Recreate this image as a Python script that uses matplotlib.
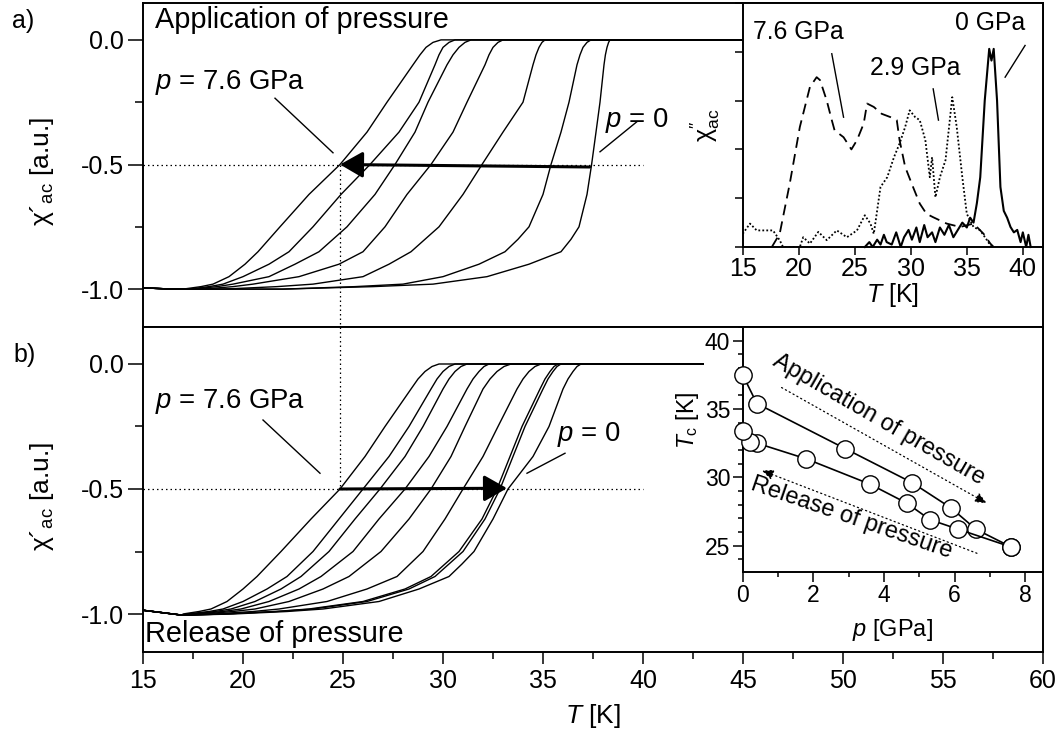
import matplotlib
matplotlib.use('Agg')
import matplotlib.pyplot as plt
from matplotlib.ticker import MultipleLocator, FormatStrFormatter

plt.rcParams['font.family'] = ['Liberation Sans', 'DejaVu Sans']
plt.rcParams['mathtext.fontset'] = 'custom'
plt.rcParams['mathtext.rm'] = 'Liberation Sans'
plt.rcParams['mathtext.it'] = 'Liberation Sans:italic'
plt.rcParams['mathtext.bf'] = 'Liberation Sans:bold'
plt.rcParams['axes.unicode_minus'] = False

# ---------------- data ----------------
# chi' levels at which the temperature of each curve was read
LEVELS = [-1.0, -0.99, -0.98, -0.95, -0.9, -0.85, -0.8, -0.75, -0.62, -0.5, -0.37, -0.25,
          -0.1, -0.06, -0.03, -0.01, 0.0]

# a) application of pressure: p = 7.6, 6.6, 5.9, 4.8, 2.9, 0.4, 0 GPa
APP_P = [7.6, 6.6, 5.9, 4.8, 2.9, 0.4, 0.0]
APP_T = [
    [17.0, 17.9, 18.5, 19.3, 20.1, 20.75, 21.3, 21.85, 23.3, 24.85, 26.2, 27.2, 28.5, 28.85, 29.15, 29.5, 29.9],
    [17.3, 18.3, 19.0, 20.0, 21.3, 22.3, 22.9, 23.5, 24.9, 26.35, 27.8, 28.8, 29.6, 29.8, 30.0, 30.3, 30.6],
    [17.5, 18.7, 19.5, 21.3, 22.6, 23.8, 24.5, 25.2, 26.6, 27.6, 28.6, 29.25, 30.2, 30.5, 30.8, 31.1, 31.4],
    [18.0, 19.5, 20.5, 22.8, 24.8, 26.0, 26.55, 27.1, 28.2, 29.4, 30.5, 31.2, 32.1, 32.3, 32.5, 32.75, 33.0],
    [19.0, 21.7, 23.5, 26.0, 27.3, 28.4, 29.1, 29.8, 31.0, 31.95, 33.0, 34.0, 34.5, 34.65, 34.8, 34.95, 35.1],
    [22.0, 25.6, 28.0, 30.0, 31.8, 33.1, 33.75, 34.3, 35.0, 35.4, 35.9, 36.3, 36.7, 36.85, 37.0, 37.2, 37.4],
    [22.0, 26.5, 29.5, 32.2, 34.3, 35.9, 36.4, 36.8, 37.2, 37.43, 37.65, 37.85, 38.05, 38.12, 38.2, 38.28, 38.35],
]
APP_START_T = [15.0, 16.5]
APP_START_X = [-0.995, -1.0]
APP_END_T = 45.0

# b) release of pressure: p = 7.6, 6.1, 5.3, 4.65, 3.6, 1.8, 0.4, 0.2, 0 GPa
REL_P = [7.6, 6.1, 5.3, 4.65, 3.6, 1.8, 0.4, 0.2, 0.0]
REL_T = [
    [17.0, 17.8, 18.4, 19.2, 20.0, 20.7, 21.3, 21.9, 23.4, 24.85, 26.1, 27.1, 28.4, 28.75, 29.1, 29.45, 29.8],
    [17.2, 18.3, 19.0, 20.0, 21.2, 22.2, 22.85, 23.5, 24.8, 26.0, 27.3, 28.3, 29.4, 29.7, 30.0, 30.3, 30.6],
    [17.4, 18.6, 19.4, 20.6, 21.9, 22.9, 23.6, 24.3, 25.6, 26.85, 28.1, 29.0, 30.0, 30.3, 30.6, 30.9, 31.2],
    [17.6, 19.0, 19.9, 21.3, 22.8, 23.9, 24.7, 25.5, 26.8, 28.1, 29.3, 30.2, 31.2, 31.5, 31.8, 32.05, 32.3],
    [18.0, 19.5, 20.6, 22.3, 24.0, 25.3, 26.1, 26.9, 28.3, 29.4, 30.4, 31.1, 32.0, 32.35, 32.7, 33.05, 33.4],
    [18.5, 20.5, 21.8, 24.2, 26.2, 27.7, 28.35, 29.0, 30.1, 31.0, 32.0, 32.75, 33.7, 34.0, 34.3, 34.6, 34.9],
    [19.0, 21.6, 23.3, 26.0, 28.1, 29.4, 30.1, 30.8, 31.95, 32.7, 33.35, 33.95, 34.85, 35.1, 35.35, 35.55, 35.75],
    [19.0, 21.7, 23.5, 26.2, 28.3, 29.6, 30.3, 31.0, 32.1, 32.85, 33.5, 34.1, 35.0, 35.25, 35.5, 35.7, 35.9],
    [19.5, 22.2, 24.0, 26.8, 28.8, 30.3, 30.95, 31.55, 32.5, 33.25, 34.5, 35.3, 36.0, 36.25, 36.5, 36.7, 36.9],
]
REL_START_T = [15.0, 17.0]
REL_START_X = [-0.985, -1.005]
REL_END_T = 43.0

# chi'' inset
CHI2_0_T = [25.9, 26.3, 26.6, 27.0, 27.3, 27.6, 27.85, 28.3, 28.7, 29.1, 29.4, 29.8, 30.1, 30.5, 30.8,
            31.2, 31.5, 31.9, 32.2, 32.6, 33.0, 33.4, 33.8, 34.2, 34.6, 35.0, 35.3, 35.6, 35.9, 36.2,
            36.6, 37.0, 37.2, 37.4, 37.7, 38.0, 38.3, 38.6, 38.9, 39.2, 39.5, 39.8, 40.0, 40.3, 40.5, 40.7]
CHI2_0_V = [0.0, 0.1, 0.0, 0.15, 0.05, 0.25, 0.1, 0.05, 0.3, 0.0, 0.2, 0.35, 0.15, 0.4, 0.1,
            0.45, 0.2, 0.3, 0.1, 0.4, 0.25, 0.45, 0.2, 0.35, 0.5, 0.4, 0.6, 0.5, 0.9, 1.43,
            3.0, 4.06, 3.82, 4.06, 3.0, 1.23, 0.74, 0.6, 0.41, 0.3, 0.35, 0.1, 0.3, 0.0, 0.25, 0.0]
CHI2_29_T = [15.0, 15.65, 16.25, 17.7, 18.3, 18.6, 20.1, 20.4, 21.0, 21.75, 22.5, 23.4, 24.3, 25.2, 25.9,
             26.4, 26.7, 27.3, 27.9, 28.5, 29.0, 29.5, 29.9, 30.4, 30.8, 31.3, 31.7, 31.9, 32.2, 32.6,
             33.1, 33.7, 34.1, 34.6, 35.0, 35.6, 36.2, 36.8, 37.2]
CHI2_29_V = [0.27, 0.48, 0.34, 0.34, 0.14, 0.0, 0.0, 0.2, 0.07, 0.31, 0.14, 0.34, 0.2, 0.34, 0.65,
             0.48, 0.27, 1.23, 1.43, 1.84, 2.12, 2.46, 2.8, 2.66, 2.6, 2.19, 1.43, 1.84, 1.02, 1.43,
             1.78, 3.07, 2.46, 1.43, 0.68, 0.41, 0.34, 0.14, 0.0]
CHI2_76_T = [17.6, 18.3, 19.2, 20.1, 21.0, 21.6, 21.9, 22.5, 22.95, 23.2, 24.0, 24.7, 25.2, 25.8, 26.1,
             26.7, 27.4, 28.2, 28.75, 29.0, 29.5, 30.2, 30.8, 31.4, 32.0, 33.2, 34.4, 35.6, 36.5, 37.1, 37.4]
CHI2_76_V = [0.0, 0.27, 1.3, 2.46, 3.28, 3.48, 3.42, 3.0, 2.6, 2.39, 2.25, 2.0, 2.19, 2.53, 2.94,
             2.87, 2.73, 2.66, 2.6, 2.19, 1.64, 1.23, 0.89, 0.68, 0.61, 0.48, 0.41, 0.48, 0.27, 0.07, 0.0]

# Tc(p) inset
TC_APP_P = [0.0, 0.4, 2.9, 4.8, 5.9, 6.6, 7.6]
TC_APP_T = [37.5, 35.4, 32.1, 29.6, 27.75, 26.2, 24.9]
TC_REL_P = [7.6, 6.1, 5.3, 4.65, 3.6, 1.8, 0.4, 0.2, 0.0]
TC_REL_T = [24.9, 26.2, 26.9, 28.1, 29.5, 31.35, 32.5, 32.6, 33.4]

MAIN_XTICKS = [15, 20, 25, 30, 35, 40, 45, 50, 55, 60]
CHI_YTICKS = [-1.0, -0.5, 0.0]

# ---------------- figure ----------------
W, H = 1062, 737
fig = plt.figure(figsize=(W / 100, H / 100), dpi=100)

def px_axes(x0, y0, x1, y1):
    return fig.add_axes([x0 / W, 1 - y1 / H, (x1 - x0) / W, (y1 - y0) / H])

ax1 = px_axes(143, 3, 1043, 327)
ax2 = px_axes(143, 327, 1043, 652)

SP_LW = 1.4
for ax in (ax1, ax2):
    ax.set_xlim(15, 60)
    ax.set_ylim(-1.152, 0.148)
    for s in ax.spines.values():
        s.set_linewidth(SP_LW)
    ax.set_xticks(MAIN_XTICKS)
    ax.set_yticks(CHI_YTICKS)
    ax.yaxis.set_minor_locator(MultipleLocator(0.25))
    ax.yaxis.set_major_formatter(FormatStrFormatter('%.1f'))
    ax.tick_params(axis='y', which='major', direction='out', length=10.5, width=1.1, labelsize=18, pad=3)
    ax.tick_params(axis='y', which='minor', direction='out', length=5.5, width=1.1)
    ax.tick_params(right=False, top=False)
    ax.set_ylabel('χ´$_{\\rm ac}$ [a.u.]', fontsize=19)
    ax.yaxis.set_label_coords(-0.097, 0.48)

ax1.tick_params(axis='x', which='major', direction='out', length=7, width=1.1, labelbottom=False)
ax2.xaxis.set_minor_locator(MultipleLocator(2.5))
ax2.tick_params(axis='x', which='major', direction='out', length=8.5, width=1.1, labelsize=18, pad=4)
ax2.tick_params(axis='x', which='minor', direction='out', length=5, width=1.1)
ax2.set_xlabel('$T$ [K]', fontsize=19, labelpad=6)

# curves
for tv in APP_T:
    ax1.plot(APP_START_T + tv + [APP_END_T], APP_START_X + LEVELS + [0.0], color='k', lw=1.0)
for tv in REL_T:
    ax2.plot(REL_START_T + tv + [REL_END_T], REL_START_X + LEVELS + [0.0], color='k', lw=1.0)

TC_MID_A = APP_T[0][LEVELS.index(-0.5)]
TC_MID_R = REL_T[-1][LEVELS.index(-0.5)]
TC_HI_A = APP_T[-1][LEVELS.index(-0.5)]

dot = (0, (1.2, 2.4))
for ax in (ax1, ax2):
    ax.plot([15, 40], [-0.5, -0.5], color='k', lw=0.9, ls=dot)
ax1.plot([TC_MID_A, TC_MID_A], [-0.5, -1.152], color='k', lw=0.9, ls=dot)
ax2.plot([TC_MID_A, TC_MID_A], [0.148, -0.5], color='k', lw=0.9, ls=dot)

arrow_kw = dict(arrowstyle='-|>,head_length=0.7,head_width=0.4', color='k', lw=2.2,
                shrinkA=0, shrinkB=0, mutation_scale=20)
ax1.annotate('', xy=(TC_MID_A, -0.5), xytext=(TC_HI_A - 0.1, -0.51), arrowprops=arrow_kw)
ax2.annotate('', xy=(TC_MID_R - 0.05, -0.497), xytext=(TC_MID_A, -0.5), arrowprops=arrow_kw)

# annotations panel a
ax1.text(0.0133, 0.99, 'Application of pressure', transform=ax1.transAxes, ha='left', va='top', fontsize=20.8)
ax1.text(15.6, -0.17, '$p$ = 7.6 GPa', ha='left', va='center', fontsize=19.8)
ax1.plot([21.6, 24.5], [-0.234, -0.453], color='k', lw=1.0)
ax1.text(38.1, -0.325, '$p$ = 0', ha='left', va='center', fontsize=19.8)
ax1.plot([39.7, 37.85], [-0.328, -0.449], color='k', lw=1.0)

# annotations panel b
ax2.text(15.6, -0.152, '$p$ = 7.6 GPa', ha='left', va='center', fontsize=19.8)
ax2.plot([21.0, 23.85], [-0.224, -0.437], color='k', lw=1.0)
ax2.text(35.7, -0.284, '$p$ = 0', ha='left', va='center', fontsize=19.8)
ax2.plot([36.1, 34.2], [-0.357, -0.437], color='k', lw=1.0)
ax2.text(15.1, -1.111, 'Release of pressure', ha='left', va='baseline', fontsize=20.8)

fig.text(12 / W, 1 - 21 / H, 'a)', ha='left', va='center', fontsize=18)
fig.text(13 / W, 1 - 355 / H, 'b)', ha='left', va='center', fontsize=18)

# ---------------- inset chi'' ----------------
axi = px_axes(742.7, 3, 1043, 247)
axi.set_facecolor('white')
axi.set_xlim(15, 41.8)
axi.set_ylim(0, 5)
for s in axi.spines.values():
    s.set_linewidth(SP_LW)
axi.set_xticks([15, 20, 25, 30, 35, 40])
axi.set_yticks([0, 1, 2, 3, 4, 5])
axi.set_yticklabels([])
axi.tick_params(axis='both', direction='out', length=5.5, width=1.1, labelsize=18, pad=2)
axi.tick_params(right=False, top=False)
axi.plot(CHI2_0_T, CHI2_0_V, color='k', lw=1.5, clip_on=False)
axi.plot(CHI2_29_T, CHI2_29_V, color='k', lw=1.3, ls=(0, (1.0, 1.2)))
axi.plot(CHI2_76_T, CHI2_76_V, color='k', lw=1.3, ls=(0, (6, 3.5)))
axi.set_xlabel('$T$ [K]', fontsize=18, labelpad=0)
axi.set_ylabel("χ$^{\\prime\\prime}_{\\rm ac}$", fontsize=18)
axi.yaxis.set_label_coords(-0.07, 0.5)
axi.text(19.94, 4.40, '7.6 GPa', ha='center', va='center', fontsize=17.8)
axi.plot([22.95, 24.0], [3.96, 2.66], color='k', lw=1.0)
axi.text(30.38, 3.66, '2.9 GPa', ha='center', va='center', fontsize=17.8)
axi.plot([32.0, 32.47], [3.24, 2.6], color='k', lw=1.0)
axi.text(37.08, 4.58, '0 GPa', ha='center', va='center', fontsize=17.8)
axi.plot([40.2, 38.42], [4.13, 3.48], color='k', lw=1.0)

# ---------------- inset Tc(p) ----------------
axt = px_axes(742.7, 327, 1043, 572)
axt.set_facecolor('white')
axt.set_xlim(0, 8.5)
axt.set_ylim(23.07, 41.0)
for s in axt.spines.values():
    s.set_linewidth(SP_LW)
axt.set_xticks([0, 2, 4, 6, 8])
axt.set_yticks([25, 30, 35, 40])
axt.xaxis.set_minor_locator(MultipleLocator(1))
axt.yaxis.set_minor_locator(MultipleLocator(1))
axt.tick_params(axis='both', which='major', direction='out', length=7, width=1.1, labelsize=16.5, pad=2)
axt.tick_params(axis='both', which='minor', direction='out', length=3.5, width=1.1)
axt.tick_params(right=False, top=False)
mk = dict(marker='o', ms=12.5, mfc='white', mec='k', mew=1.0, color='k', lw=1.2, clip_on=False, zorder=3)
axt.plot(TC_APP_P, TC_APP_T, **mk)
axt.plot(TC_REL_P, TC_REL_T, **mk)
axt.set_xlabel('$p$ [GPa]', fontsize=17, labelpad=7)
axt.set_ylabel('$T_{\\rm c}$ [K]', fontsize=16.5)
axt.yaxis.set_label_coords(-0.14, 0.62)
axt.text(3.86, 34.19, 'Application of pressure', rotation=-30, ha='center', va='center',
         rotation_mode='anchor', fontsize=17)
axt.text(3.085, 27.0, 'Release of pressure', rotation=-19, ha='center', va='center',
         rotation_mode='anchor', fontsize=17)
dash_arrow = dict(arrowstyle='-|>,head_length=0.5,head_width=0.22', color='k', lw=0.9,
                  ls=(0, (1.0, 2.5)), shrinkA=0, shrinkB=0, mutation_scale=14)
axt.annotate('', xy=(6.91, 28.1), xytext=(1.10, 36.57), arrowprops=dash_arrow)
axt.annotate('', xy=(0.54, 30.5), xytext=(6.63, 24.44), arrowprops=dash_arrow)

fig.savefig('out.png', dpi=100)
